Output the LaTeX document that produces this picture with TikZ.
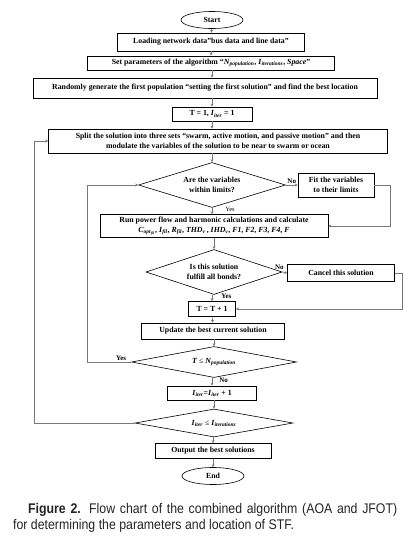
\documentclass[tikz,border=0pt]{standalone}
\usepackage{fontspec}
\setmainfont{Liberation Serif}
\newfontfamily\capfont[FakeStretch=0.88]{Liberation Sans}
\usetikzlibrary{positioning, arrows.meta, shapes.geometric, calc}
\definecolor{linegray}{RGB}{120,120,120}
\definecolor{capgray}{RGB}{35,35,35}
% italic symbol with italic subscript
\newcommand{\vsub}[2]{\textit{#1}\textsubscript{\textit{#2}}}

\begin{document}
\begin{tikzpicture}[x=1pt, y=-1pt,
  term/.style={ellipse, draw=black, line width=0.6pt,
               minimum width=62pt, minimum height=17pt, inner sep=0pt,
               font=\bfseries\fontsize{7.8}{9}\selectfont},
  proc/.style={rectangle, draw=black, line width=0.6pt, inner sep=1pt,
               align=center, font=\bfseries\fontsize{7.8}{9.5}\selectfont},
  dec/.style={diamond, aspect=3, draw=black, line width=0.6pt, inner sep=0pt,
              align=center, font=\bfseries\fontsize{7.8}{9.5}\selectfont},
  arr/.style={-{Stealth[length=3pt, width=3pt]}, line width=0.6pt, draw=linegray},
  lbl/.style={font=\bfseries\fontsize{7}{8}\selectfont, inner sep=1pt}
]
\useasboundingbox (0,0) rectangle (409,547);

% main column
\node[term] (start) at (212,20) {Start};
\node[proc, minimum width=187pt, minimum height=18pt] (load) at (211,42)
  {Loading network data''bus data and line data''};
\node[proc, minimum width=247pt, minimum height=14pt] (param) at (211,63)
  {Set parameters of the algorithm ``\vsub{N}{population}, \vsub{I}{iterations}, \textit{Space}''};
\node[proc, minimum width=344pt, minimum height=20pt] (rand) at (205,88)
  {Randomly generate the first population ``setting the first solution'' and find the best location};
\node[proc, minimum width=80pt, minimum height=14pt] (init) at (212,114)
  {T = 1, \vsub{I}{iter} = 1};
\node[proc, minimum width=339pt, minimum height=24pt] (split) at (218,141)
  {Split the solution into three sets ``swarm, active motion, and passive motion'' and then\\
   modulate the variables of the solution to be near to swarm or ocean};
\node[dec, minimum width=147pt, minimum height=45pt] (lim) at (212,185)
  {Are the variables\\within limits?};
\node[proc, minimum width=76pt, minimum height=24pt] (fit) at (336,185)
  {Fit the variables\\to their limits};
\node[proc, minimum width=228pt, minimum height=23pt] (run) at (214,226)
  {Run power flow and harmonic calculations and calculate\\
   \textit{C}\textsubscript{\textit{opt}\textsubscript{\textit{fil}}}, \vsub{I}{fil}, \vsub{R}{fil},
   \vsub{THD}{v}\,, \vsub{IHD}{v}, \textit{F1}, \textit{F2}, \textit{F3}, \textit{F4}, \textit{F}};
\node[dec, minimum width=136pt, minimum height=45pt] (bond) at (214,272)
  {Is this solution\\fulfill all bonds?};
\node[proc, minimum width=107pt, minimum height=17pt] (cancel) at (341,273)
  {Cancel this solution};
\node[proc, minimum width=47pt, minimum height=15pt] (incT) at (212,309) {T = T + 1};
\node[proc, minimum width=143pt, minimum height=16pt] (upd) at (213,331)
  {Update the best current solution};
\node[dec, minimum width=165pt, minimum height=31pt] (popchk) at (214,362)
  {\textit{T} {\mdseries ≤} \vsub{N}{population}};
\node[proc, minimum width=89pt, minimum height=14pt] (incI) at (212,393)
  {\vsub{I}{iter}=\vsub{I}{iter} + 1};
\node[dec, minimum width=158pt, minimum height=28pt] (itchk) at (214,423)
  {\vsub{I}{iter} {\mdseries ≤} \vsub{I}{iterations}};
\node[proc, minimum width=116pt, minimum height=15pt] (out) at (213,451)
  {Output the best solutions};
\node[term] (end) at (213,476) {End};

% flow
\draw[arr] (start) -- (load);
\draw[arr] (load) -- (param);
\draw[arr] (param.south -| init) -- (rand.north -| init);
\draw[arr] (rand.south -| init) -- (init);
\draw[arr] (init) -- (init |- split.north);
\draw[arr] (split.south -| lim) -- (lim);
\draw[arr] (lim.east) -- node[lbl, above]{No} (fit.west);
\draw[arr] (lim.south) -- node[lbl, right, pos=0.25, xshift=12pt, font=\fontsize{6.5}{7}\selectfont]{Yes} (lim.south |- run.north);
\draw[arr] (fit.east) -- ++(16,0) |- (run.east);
\draw[arr] (run.south -| bond) -- (bond);
\draw[arr] (bond.east) -- node[lbl, at start, above, xshift=-3pt, yshift=1pt]{No} (cancel.west);
\draw[arr] (bond.south -| incT) -- node[lbl, right, pos=0.2, xshift=8pt]{Yes} (incT);
\draw[arr] (cancel.east) -- ++(7,0) |- (incT.east);
\draw[arr] (incT) -- (upd);
\draw[arr] (upd.south -| popchk) -- (popchk);
\draw[arr] (popchk.south -| incI) -- node[lbl, right, pos=0.3, xshift=6pt]{No} (incI);
\draw[arr] (incI.south -| itchk) -- (itchk);
\draw[arr] (itchk.south -| out) -- (out);
\draw[arr] (out) -- (end);

% loops back
\draw[arr] (popchk.west) -- node[lbl, above, pos=0.23]{Yes} ++(-44,0) |- (lim.west);
\draw[arr] (itchk.west) -- ++(-100,0) |- (split.west);

% caption
\node[text width=384pt, align=justify, inner sep=0pt, anchor=north west,
      font=\capfont\fontsize{14}{16}\selectfont, text=capgray] (caption) at (13,503)
  {\hspace*{15pt}\textbf{Figure 2.} Flow chart of the combined algorithm (AOA and JFOT)\linebreak
   for determining the parameters and location of STF.};

\end{tikzpicture}
\end{document}
